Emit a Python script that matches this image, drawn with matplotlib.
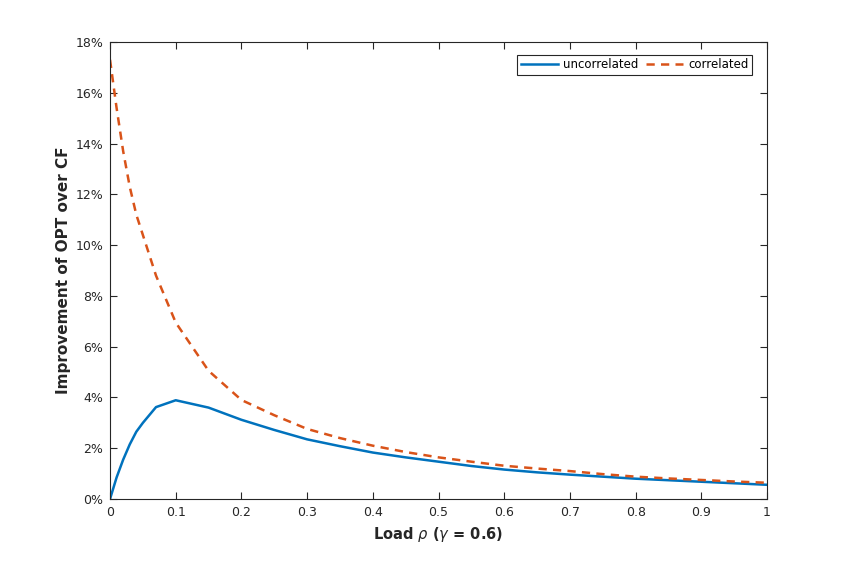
import matplotlib.pyplot as plt
from matplotlib.ticker import FuncFormatter

# load values and improvement (in percent)
load = [0, 0.01, 0.02, 0.03, 0.04, 0.05, 0.07, 0.1, 0.15, 0.2, 0.25, 0.3,
        0.35, 0.4, 0.45, 0.5, 0.55, 0.6, 0.65, 0.7, 0.75, 0.8, 0.85, 0.9,
        0.95, 1.0]
uncorrelated = [0.0, 0.85, 1.55, 2.15, 2.65, 3.0, 3.62, 3.89, 3.6, 3.12,
                2.72, 2.35, 2.08, 1.83, 1.64, 1.47, 1.3, 1.16, 1.05, 0.96,
                0.88, 0.8, 0.74, 0.68, 0.62, 0.56]
correlated = [17.3, 15.4, 13.7, 12.3, 11.2, 10.4, 8.8, 6.95, 5.05, 3.9,
              3.3, 2.76, 2.4, 2.1, 1.85, 1.64, 1.47, 1.31, 1.2, 1.1, 0.98,
              0.88, 0.81, 0.75, 0.69, 0.64]

plt.rcParams["font.family"] = "DejaVu Sans"
dark = "#262626"

fig = plt.figure(figsize=(8.47, 5.61), dpi=100)
ax = fig.add_axes([0.1299, 0.1105, 0.7757, 0.8146])

ax.plot(load, uncorrelated, color="#0072BD", lw=1.8, label="uncorrelated")
ax.plot(load, correlated, color="#D95319", lw=1.8, ls=(0, (3.3, 2.5)),
        label="correlated")

ax.set_xlim(0, 1)
ax.set_ylim(0, 18)
ax.set_xticks([i / 10 for i in range(11)])
ax.set_yticks(range(0, 19, 2))
ax.xaxis.set_major_formatter(FuncFormatter(lambda v, p: "0" if v == 0 else ("1" if v == 1 else f"{v:.1f}")))
ax.yaxis.set_major_formatter(FuncFormatter(lambda v, p: f"{v:.0f}%"))
ax.tick_params(direction="in", top=True, right=True, length=5, width=0.8,
               labelsize=9, colors=dark, pad=5)
for s in ax.spines.values():
    s.set_color(dark)
    s.set_linewidth(0.8)

ax.set_xlabel(r"Load $\rho$ ($\gamma$ = 0.6)", fontsize=10.5, fontweight="bold",
              color=dark, labelpad=4)
ax.set_ylabel("Improvement of OPT over CF", fontsize=11, fontweight="bold",
              color=dark, labelpad=3)

leg = ax.legend(loc="upper right", ncol=2, fontsize=8.5, frameon=True,
                fancybox=False, edgecolor=dark, framealpha=1,
                handlelength=3.2, handletextpad=0.4, columnspacing=0.6,
                borderpad=0.3, borderaxespad=0,
                bbox_to_anchor=(0.977, 0.972))
leg.get_frame().set_linewidth(0.8)

fig.savefig("out.png", dpi=100)
